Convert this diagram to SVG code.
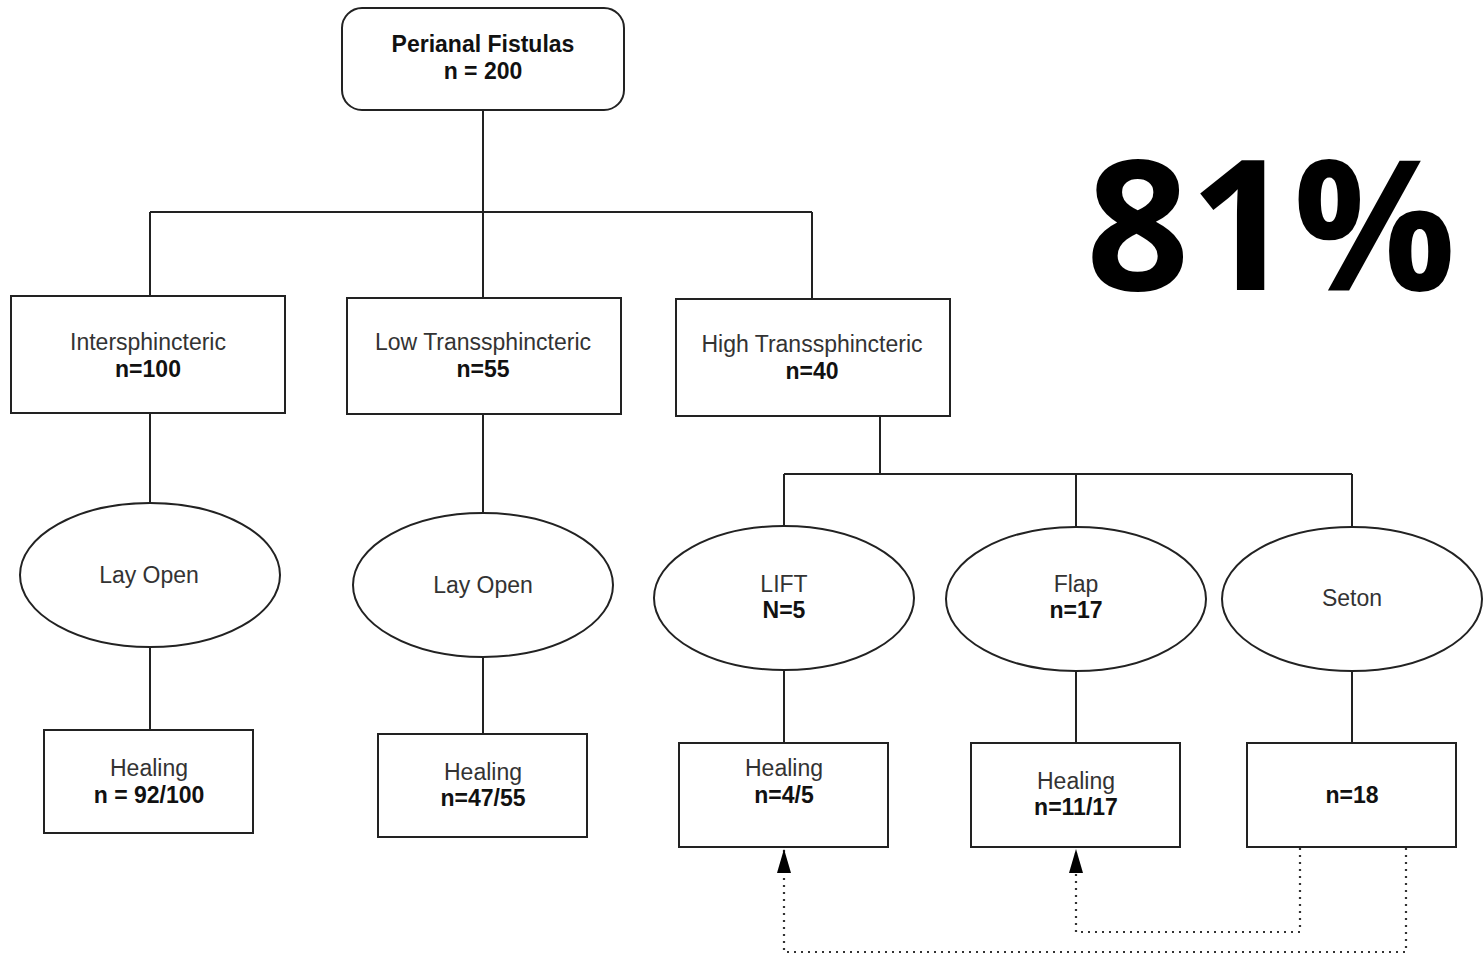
<svg xmlns="http://www.w3.org/2000/svg" width="1483" height="954" viewBox="0 0 1483 954">
<style>
.box{fill:#fff;stroke:#222;stroke-width:2}
.ln{fill:none;stroke:#222;stroke-width:2}
.dot{fill:none;stroke:#333;stroke-width:2.2;stroke-dasharray:2 5}
.t{font-family:"Liberation Sans",Arial,sans-serif;font-size:23px;fill:#333;text-anchor:middle}
.b{font-family:"Liberation Sans",Arial,sans-serif;font-size:23px;font-weight:bold;fill:#111;text-anchor:middle}
.big{font-family:"Open Sans","Noto Sans",sans-serif;font-size:181px;font-weight:bold;fill:#000;text-anchor:middle}
</style>
<defs>
<marker id="ah" viewBox="0 0 24 14" refX="24" refY="7" markerWidth="24" markerHeight="14" markerUnits="userSpaceOnUse" orient="auto">
<path d="M0,0 L24,7 L0,14 z" fill="#000"/>
</marker>
</defs>
<rect width="1483" height="954" fill="#fff"/>
<g id="connectors">
<path class="ln" d="M483,110 V212 M150,212 H812 M150,212 V296 M483,212 V298 M812,212 V299"/>
<path class="ln" d="M150,413 V503 M150,647 V730"/>
<path class="ln" d="M483,414 V513 M483,657 V734"/>
<path class="ln" d="M880,416 V474 M784,474 H1352 M784,474 V526 M1076,474 V527 M1352,474 V527"/>
<path class="ln" d="M784,670 V743 M1076,671 V743 M1352,671 V743"/>
<path class="dot" d="M1300,848 V932 H1076 V849" marker-end="url(#ah)"/>
<path class="dot" d="M1406,848 V952 H784 V849" marker-end="url(#ah)"/>
</g>
<g id="root">
<rect class="box" x="342" y="8" width="282" height="102" rx="20"/>
<text class="b" x="483" y="52">Perianal Fistulas</text>
<text class="b" x="483" y="79">n = 200</text>
</g>
<g id="inter">
<rect class="box" x="11" y="296" width="274" height="117"/>
<text class="t" x="148" y="350">Intersphincteric</text>
<text class="b" x="148" y="377">n=100</text>
</g>
<g id="lowtrans">
<rect class="box" x="347" y="298" width="274" height="116"/>
<text class="t" x="483" y="350">Low Transsphincteric</text>
<text class="b" x="483" y="377">n=55</text>
</g>
<g id="hightrans">
<rect class="box" x="676" y="299" width="274" height="117"/>
<text class="t" x="812" y="352">High Transsphincteric</text>
<text class="b" x="812" y="379">n=40</text>
</g>
<g id="layopen1">
<ellipse class="box" cx="150" cy="575" rx="130" ry="72"/>
<text class="t" x="149" y="583">Lay Open</text>
</g>
<g id="layopen2">
<ellipse class="box" cx="483" cy="585" rx="130" ry="72"/>
<text class="t" x="483" y="593">Lay Open</text>
</g>
<g id="lift">
<ellipse class="box" cx="784" cy="598" rx="130" ry="72"/>
<text class="t" x="784" y="592">LIFT</text>
<text class="b" x="784" y="618">N=5</text>
</g>
<g id="flap">
<ellipse class="box" cx="1076" cy="599" rx="130" ry="72"/>
<text class="t" x="1076" y="592">Flap</text>
<text class="b" x="1076" y="618">n=17</text>
</g>
<g id="seton">
<ellipse class="box" cx="1352" cy="599" rx="130" ry="72"/>
<text class="t" x="1352" y="606">Seton</text>
</g>
<g id="heal1">
<rect class="box" x="44" y="730" width="209" height="103"/>
<text class="t" x="149" y="776">Healing</text>
<text class="b" x="149" y="803">n = 92/100</text>
</g>
<g id="heal2">
<rect class="box" x="378" y="734" width="209" height="103"/>
<text class="t" x="483" y="780">Healing</text>
<text class="b" x="483" y="806">n=47/55</text>
</g>
<g id="heal3">
<rect class="box" x="679" y="743" width="209" height="104"/>
<text class="t" x="784" y="776">Healing</text>
<text class="b" x="784" y="803">n=4/5</text>
</g>
<g id="heal4">
<rect class="box" x="971" y="743" width="209" height="104"/>
<text class="t" x="1076" y="789">Healing</text>
<text class="b" x="1076" y="815">n=11/17</text>
</g>
<g id="setonresult">
<rect class="box" x="1247" y="743" width="209" height="104"/>
<text class="b" x="1352" y="803">n=18</text>
</g>
<g id="percent">
<text class="big" x="1271" y="290">81%</text>
</g>
</svg>
